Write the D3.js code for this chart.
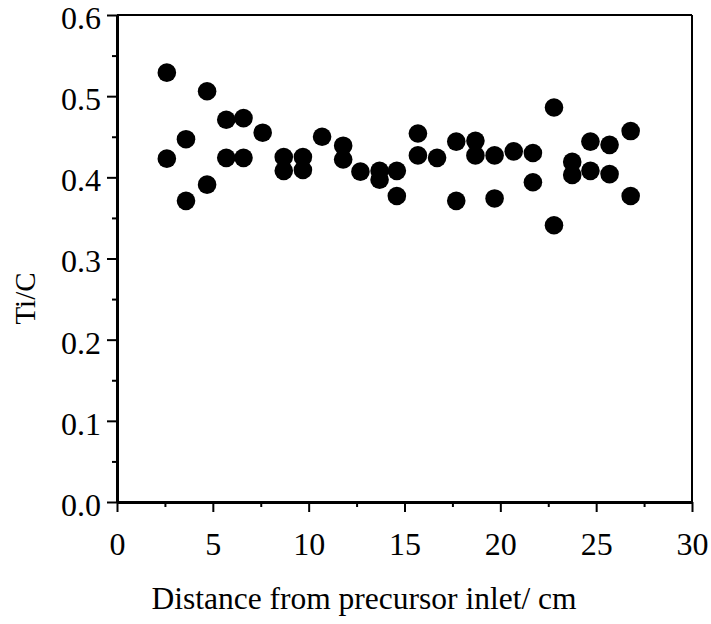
<!DOCTYPE html>
<html><head><meta charset="utf-8">
<script src="https://cdn.jsdelivr.net/npm/d3@7"></script>
<style>body{margin:0;background:#fff}svg{display:block}</style>
</head><body>
<script>
const distance = [2.6,2.6,3.6,3.6,4.7,4.7,5.7,5.7,6.6,6.6,7.6,8.7,8.7,9.7,9.7,10.7,11.8,11.8,12.7,13.7,13.7,14.6,14.6,15.7,15.7,16.7,17.7,17.7,18.7,18.7,19.7,19.7,20.7,21.7,21.7,22.8,22.8,23.75,23.75,24.7,24.7,25.7,25.7,26.8,26.8];
const tiC = [0.529,0.423,0.447,0.371,0.506,0.391,0.471,0.424,0.473,0.424,0.455,0.425,0.408,0.425,0.409,0.450,0.439,0.422,0.407,0.408,0.397,0.408,0.377,0.454,0.427,0.424,0.444,0.371,0.445,0.427,0.427,0.374,0.432,0.430,0.394,0.486,0.341,0.419,0.403,0.444,0.408,0.440,0.404,0.457,0.377];
const xTicks = [0,5,10,15,20,25,30];
const yTicks = [0.0,0.1,0.2,0.3,0.4,0.5,0.6];
const xLabel = "Distance from precursor inlet/ cm";
const yLabel = "Ti/C";

const W = 711, H = 624;
const L = 117, R = 692, T = 15, B = 502;
const svg = d3.select("body").append("svg").attr("width", W).attr("height", H);
const x = d3.scaleLinear().domain([0,30]).range([L,R]);
const y = d3.scaleLinear().domain([0,0.6]).range([B,T]);
const font = "'Liberation Serif', 'Times New Roman', serif";

// frame top/right
svg.append("line").attr("x1",L).attr("x2",R).attr("y1",T).attr("y2",T).attr("stroke","#000").attr("stroke-width",2);
svg.append("line").attr("x1",R).attr("x2",R).attr("y1",T).attr("y2",B).attr("stroke","#000").attr("stroke-width",2);

// minor ticks
const yMinor = d3.range(0.05,0.6,0.1);
const xMinor = d3.range(2.5,30,5);
svg.append("g").attr("transform",`translate(${L},0)`)
  .call(d3.axisLeft(y).tickValues(yMinor).tickSize(5).tickFormat(""))
  .call(g=>g.select(".domain").remove())
  .selectAll("line").attr("stroke-width",2);
svg.append("g").attr("transform",`translate(0,${B})`)
  .call(d3.axisBottom(x).tickValues(xMinor).tickSize(5).tickFormat(""))
  .call(g=>g.select(".domain").remove())
  .selectAll("line").attr("stroke-width",2);

// major axes
const ya = svg.append("g").attr("transform",`translate(${L},0)`)
  .call(d3.axisLeft(y).tickValues(yTicks).tickSize(10).tickPadding(6).tickSizeOuter(0).tickFormat(d3.format(".1f")));
ya.select(".domain").attr("stroke-width",3);
ya.selectAll(".tick line").attr("stroke-width",2);
ya.selectAll("text").attr("font-family",font).attr("font-size",32).attr("fill","#000").attr("dy","0.42em");

const xa = svg.append("g").attr("transform",`translate(0,${B})`)
  .call(d3.axisBottom(x).tickValues(xTicks).tickSize(10).tickPadding(20).tickSizeOuter(0).tickFormat(d3.format("d")));
xa.select(".domain").attr("stroke-width",3);
xa.selectAll(".tick line").attr("stroke-width",2);
xa.selectAll("text").attr("font-family",font).attr("font-size",32).attr("fill","#000");

// points
svg.append("g").selectAll("circle").data(distance.map((d,i)=>[d,tiC[i]])).join("circle")
  .attr("cx",d=>x(d[0])).attr("cy",d=>y(d[1])).attr("r",9.3).attr("fill","#000");

// labels
svg.append("text").attr("x",364).attr("y",609).attr("text-anchor","middle")
  .attr("font-family",font).attr("font-size",31.5).text(xLabel);
svg.append("text").attr("transform",`translate(35,${(T+B)/2+40}) rotate(-90)`).attr("text-anchor","middle")
  .attr("font-family",font).attr("font-size",29).text(yLabel);
</script>
</body></html>
